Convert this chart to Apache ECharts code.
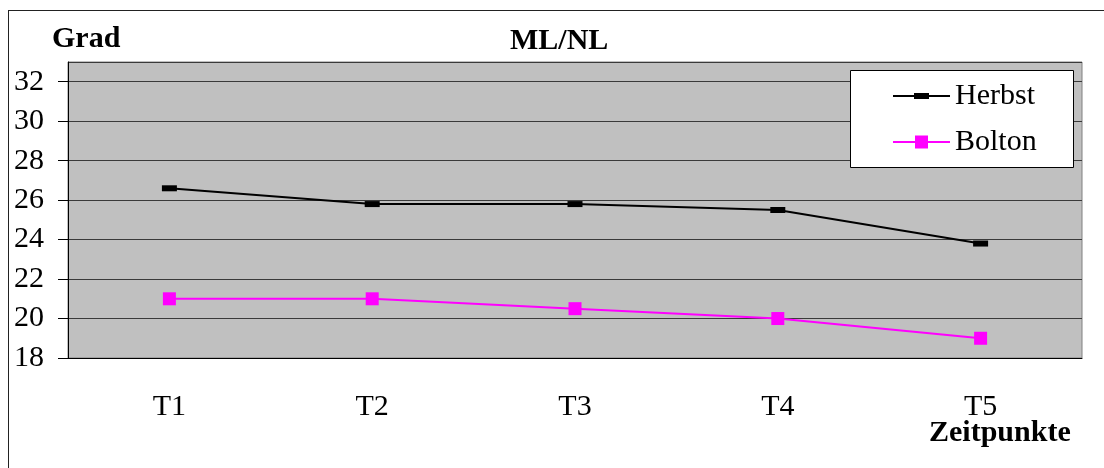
<!DOCTYPE html>
<html>
<head>
<meta charset="utf-8">
<script src="https://cdn.jsdelivr.net/npm/echarts@6/dist/echarts.min.js"></script>
<style>
html,body{margin:0;padding:0;background:#fff;}
#c{width:1104px;height:468px;}
</style>
</head>
<body>
<div id="c"></div>
<script>
const categories = ['T1', 'T2', 'T3', 'T4', 'T5'];
const herbst = [26.6, 25.8, 25.8, 25.5, 23.8];
const bolton = [21.0, 21.0, 20.5, 20.0, 19.0];
const yMin = 18, yMax = 33, yStep = 2;

const FONT = "'Liberation Serif','Times New Roman',serif";
const chart = echarts.init(document.getElementById('c'), null, {renderer: 'canvas'});

chart.setOption({
  animation: false,
  backgroundColor: '#ffffff',
  textStyle: {fontFamily: FONT, color: '#000'},
  grid: {
    left: 68, top: 62, right: 22, bottom: 110,
    show: true, backgroundColor: '#c0c0c0', borderColor: '#808080', borderWidth: 1
  },
  graphic: [
    {type: 'line', shape: {x1: 8, y1: 10.5, x2: 1104, y2: 10.5}, style: {stroke: '#222', lineWidth: 1}, z: 100},
    {type: 'line', shape: {x1: 8.5, y1: 10, x2: 8.5, y2: 468}, style: {stroke: '#222', lineWidth: 1}, z: 100},
    {type: 'text', left: 52, top: 24, style: {text: 'Grad', font: "bold 30px " + FONT, fill: '#000'}},
    {type: 'text', left: 510, top: 26, style: {text: 'ML/NL', font: "bold 30px " + FONT, fill: '#000'}},
    {type: 'text', left: 929, top: 418, style: {text: 'Zeitpunkte', font: "bold 30px " + FONT, fill: '#000'}},
    {type: 'rect', shape: {x: 850.5, y: 70.5, width: 223, height: 97}, style: {fill: '#fff', stroke: '#000', lineWidth: 1}, z: 50}
  ],
  legend: {
    orient: 'vertical',
    left: 893, top: 81,
    padding: 0,
    itemGap: 16,
    itemWidth: 57, itemHeight: 13,
    z: 60,
    textStyle: {fontFamily: FONT, fontSize: 30, color: '#000', lineHeight: 30},
    data: [
      {name: 'Herbst', icon: 'path://M0,5.5 L57,5.5 L57,7.5 L0,7.5 Z M21,3.5 L36,3.5 L36,9.5 L21,9.5 Z', itemStyle: {color: '#000'}},
      {name: 'Bolton', icon: 'path://M0,5.5 L57,5.5 L57,7.5 L0,7.5 Z M22,0 L35,0 L35,13 L22,13 Z', itemStyle: {color: '#ff00ff'}}
    ]
  },
  xAxis: {
    type: 'category',
    data: categories,
    boundaryGap: true,
    axisLine: {lineStyle: {color: '#000', width: 1}},
    axisTick: {show: false},
    axisLabel: {fontFamily: FONT, fontSize: 30, color: '#000', margin: 34, lineHeight: 30},
    splitLine: {show: false}
  },
  yAxis: {
    type: 'value',
    min: yMin, max: yMax, interval: yStep,
    axisLine: {show: true, lineStyle: {color: '#000', width: 1}},
    axisTick: {show: true, inside: false, length: 10, lineStyle: {color: '#000'}},
    axisLabel: {fontFamily: FONT, fontSize: 30, color: '#000', margin: 24, showMaxLabel: false,
      formatter: v => (v > 32 ? '' : String(v))},
    splitLine: {show: true, lineStyle: {color: '#3a3a3a', width: 1}}
  },
  series: [
    {
      name: 'Herbst', type: 'line', data: herbst,
      symbol: 'rect', symbolSize: [15, 6],
      lineStyle: {color: '#000', width: 2},
      itemStyle: {color: '#000'}
    },
    {
      name: 'Bolton', type: 'line', data: bolton,
      symbol: 'rect', symbolSize: [13, 13],
      lineStyle: {color: '#ff00ff', width: 2},
      itemStyle: {color: '#ff00ff'}
    }
  ]
});
</script>
</body>
</html>
